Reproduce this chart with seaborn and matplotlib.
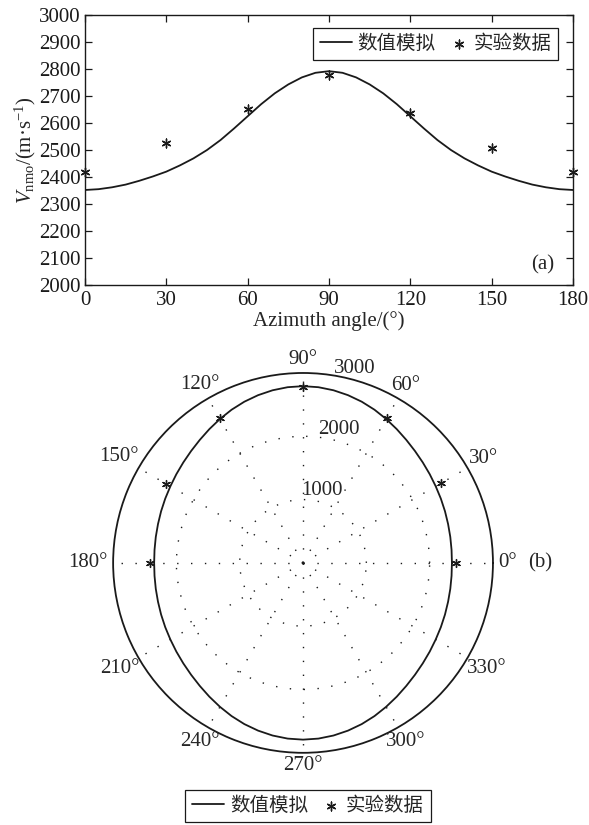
import numpy as np
import matplotlib
matplotlib.use('Agg')
import matplotlib.pyplot as plt
import seaborn as sns
from matplotlib.legend_handler import HandlerPathCollection

# 数值模拟曲线 (从图中读取, 每5度)
angle_deg = list(range(0, 181, 5))
v_model = [2352, 2355, 2362, 2372, 2386, 2402, 2420, 2443, 2469, 2500,
           2537, 2580, 2625, 2670, 2710, 2743, 2769, 2786, 2792,
           2786, 2769, 2743, 2710, 2670, 2625, 2580, 2537, 2500, 2469,
           2443, 2420, 2402, 2386, 2372, 2362, 2355, 2352]

# 实验数据
exp_deg = [0, 30, 60, 90, 120, 150, 180]
v_exp = [2420, 2525, 2651, 2778, 2636, 2506, 2420]

x_ticks = [0, 30, 60, 90, 120, 150, 180]
y_ticks = list(range(2000, 3001, 100))
theta_ticks = list(range(0, 360, 30))
ring_vals = [1000, 2000, 3000]
lab_model = '数值模拟'
lab_exp = '实验数据'

sns.set_theme(style='ticks')
plt.rcParams['font.family'] = ['Liberation Serif', 'Noto Sans CJK SC']
plt.rcParams['mathtext.fontset'] = 'custom'
plt.rcParams['mathtext.rm'] = 'Liberation Serif'
plt.rcParams['mathtext.it'] = 'Liberation Serif:italic'
plt.rcParams['axes.unicode_minus'] = False

star = (6, 2, 0)
FS = 15
DPI = 100


class RightMarker(HandlerPathCollection):
    # 把星号放在图例句柄的右侧
    def get_xdata(self, legend, xdescent, ydescent, width, height, fontsize):
        x = [-xdescent + width - 0.45 * fontsize]
        return x, x


fig = plt.figure(figsize=(5.89, 8.25), dpi=DPI)

# ---------------- (a) ----------------
ax = fig.add_axes([0.1443, 0.6545, 0.8285, 0.3273])
sns.lineplot(x=angle_deg, y=v_model, ax=ax, color='k', lw=1.3, label=lab_model)
sns.scatterplot(x=exp_deg, y=v_exp, ax=ax, marker=star, s=40, color='k',
                edgecolor='k', linewidth=1.0, label=lab_exp, clip_on=False, zorder=5)
ax.set_xlim(0, 180)
ax.set_ylim(2000, 3000)
ax.set_xticks(x_ticks)
ax.set_yticks(y_ticks)
ax.tick_params(direction='in', length=5, width=0.9, top=True, right=True,
               labelsize=FS, colors='k')
ax.tick_params(axis='x', pad=4)
ax.tick_params(axis='y', pad=3)
for s in ax.spines.values():
    s.set_linewidth(1.0)
    s.set_color('k')
ax.set_xlabel('Azimuth angle/(°)', fontsize=FS, labelpad=1)
ax.set_ylabel(r'$V_{\mathrm{nmo}}$/(m·s$^{-1}$)', fontsize=FS, labelpad=1)
ax.text(0.938, 0.074, '(a)', transform=ax.transAxes, ha='center', va='center', fontsize=FS)
h, l = ax.get_legend_handles_labels()
leg = ax.legend(h, l, ncol=2, loc='upper right', bbox_to_anchor=(0.97, 0.953),
                fontsize=14, frameon=True, fancybox=False, edgecolor='k', framealpha=1,
                handlelength=1.65, handletextpad=0.3, columnspacing=0.0,
                borderpad=0.35, borderaxespad=0, handler_map={type(h[1]): RightMarker()})
leg.get_frame().set_linewidth(0.9)

# ---------------- (b) ----------------
theta_full = angle_deg + [180 + a for a in angle_deg[1:]]
r_full = v_model + v_model[1:]

pax = fig.add_axes([0.1919, 0.0875, 0.6452, 0.4604], projection='polar')
sns.lineplot(x=np.deg2rad(theta_full), y=r_full, ax=pax, color='k', lw=1.3,
             sort=False, legend=False)
sns.scatterplot(x=np.deg2rad(exp_deg), y=v_exp, ax=pax, marker=star, s=32, color='k',
                edgecolor='k', linewidth=1.0, legend=False, clip_on=False, zorder=5)
pax.set_rlim(0, 3000)
pax.set_rgrids([1000, 2000], labels=['', ''])
pax.set_thetagrids(theta_ticks, labels=['' for a in theta_ticks])
pax.grid(True, color='k', linestyle=(0, (1, 9)), linewidth=1.0)
pax.spines['polar'].set_linewidth(1.3)
pax.spines['polar'].set_color('k')
pax.set_facecolor('white')

# 角度标注: 按文字宽度向外偏移
renderer = fig.canvas.get_renderer()
gap = 4.0
for a in theta_ticks:
    t = pax.annotate(f'{a}°', xy=(np.deg2rad(a), 3000), xytext=(0, 0),
                     textcoords='offset points', ha='center', va='center',
                     fontsize=FS, annotation_clip=False)
    bb = t.get_window_extent(renderer)
    hw = bb.width / 2 * 72 / DPI
    hh = 0.36 * FS
    c, s_ = np.cos(np.deg2rad(a)), np.sin(np.deg2rad(a))
    d = gap + hw * c ** 2 + hh * s_ ** 2
    t.xyann = (d * c, d * s_)

# 半径标注
for rv in ring_vals:
    pax.text(np.deg2rad(75), rv + 180, str(rv), ha='center', va='center', fontsize=FS)
fig.text(540 / 589, 1 - 563 / 825, '(b)', ha='center', va='center', fontsize=FS)

h2 = [h[0], h[1]]
leg2 = fig.legend(h2, l, ncol=2, loc='center', bbox_to_anchor=(308 / 589, 1 - 806 / 825),
                  fontsize=14, frameon=True, fancybox=False, edgecolor='k', framealpha=1,
                  handlelength=1.65, handletextpad=0.3, columnspacing=0.0,
                  borderpad=0.35, handler_map={type(h[1]): RightMarker()})
leg2.get_frame().set_linewidth(0.9)

fig.savefig('out.png', dpi=DPI)
